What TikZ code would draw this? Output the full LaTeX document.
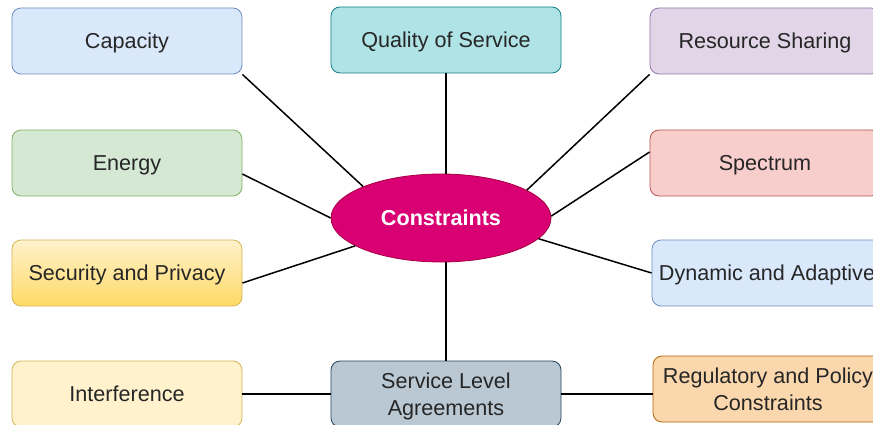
\documentclass[tikz,border=0pt]{standalone}
\usepackage{fontspec}
\setmainfont{Liberation Sans}
\usepackage{tikz}
\usetikzlibrary{shapes.geometric}
\definecolor{fcap}{HTML}{DAE8FC}
\definecolor{dcap}{HTML}{6C8EBF}
\definecolor{fqos}{HTML}{B0E3E6}
\definecolor{dqos}{HTML}{0E8088}
\definecolor{fres}{HTML}{E1D5E7}
\definecolor{dres}{HTML}{9673A6}
\definecolor{fene}{HTML}{D5E8D4}
\definecolor{dene}{HTML}{82B366}
\definecolor{fspec}{HTML}{F8CECC}
\definecolor{dspec}{HTML}{B85450}
\definecolor{fintf}{HTML}{FFF2CC}
\definecolor{dintf}{HTML}{D6B656}
\definecolor{fsec}{HTML}{FFD966}
\definecolor{fsla}{HTML}{BAC8D3}
\definecolor{dsla}{HTML}{23445D}
\definecolor{freg}{HTML}{FAD7AC}
\definecolor{dreg}{HTML}{B46504}
\definecolor{fcons}{HTML}{D80073}
\definecolor{dcons}{HTML}{A50040}

\begin{document}
\begin{tikzpicture}[x=1pt,y=-1pt]
\tikzstyle{box}=[rectangle,rounded corners=9pt,minimum width=230pt,minimum height=66pt,inner sep=2pt,align=center,text=black!85,font=\fontsize{21.6}{27}\selectfont,line width=0.8pt]
\tikzstyle{oneline}=[text height=15.5pt,text depth=-2.5pt]
\tikzstyle{twoline}=[text height=42.5pt,text depth=-1.5pt]
\tikzstyle{plain}=[]
\tikzstyle{link}=[line width=1.5pt]
\useasboundingbox (0,0) rectangle (873,425);
\foreach \name/\point/\col/\sty/\txt in {
	cap/{127,41}/cap/oneline/Capacity,
	qos/{446,40}/qos/oneline/Quality of Service,
	res/{765,41}/res/oneline/Resource Sharing,
	ene/{127,163}/ene/oneline/Energy,
	spec/{765,163}/spec/oneline/Spectrum,
	dyn/{767,273}/cap/oneline/Dynamic and Adaptive,
	intf/{127,394}/intf/oneline/Interference,
	sla/{446,394}/sla/twoline/{Service Level\\Agreements},
	reg/{768,389}/reg/plain/{Regulatory and Policy\\Constraints}}
	\node[box,\sty,fill=f\col,draw=d\col] (\name) at (\point) {\txt};
\node[box,oneline,top color=fintf,bottom color=fsec,draw=dintf] (sec) at (127,273) {Security and Privacy};
\node[ellipse,minimum width=220pt,minimum height=88pt,inner sep=0pt,fill=fcons,draw=dcons,line width=0.8pt,text=white,font=\bfseries\fontsize{21.6}{27}\selectfont] (cons) at (441,218) {Constraints};
\draw[link] (cap.south east) -- (cons.158);
\draw[link] (qos.south) -- (qos.south |- cons.north);
\draw[link] (res.south west) -- (cons.18);
\draw[link] ([yshift=-11pt]ene.east) -- (cons.180);
\draw[link] ([yshift=11pt]spec.west) -- (cons.1);
\draw[link] ([yshift=-10pt]sec.east) -- (cons.198);
\draw[link] (dyn.west) -- (cons.-12);
\draw[link] (sla.north) -- (sla.north |- cons.south);
\draw[link] (intf) -- (sla);
\draw[link] (sla.east) -- (sla.east -| reg.west);
\end{tikzpicture}
\end{document}
